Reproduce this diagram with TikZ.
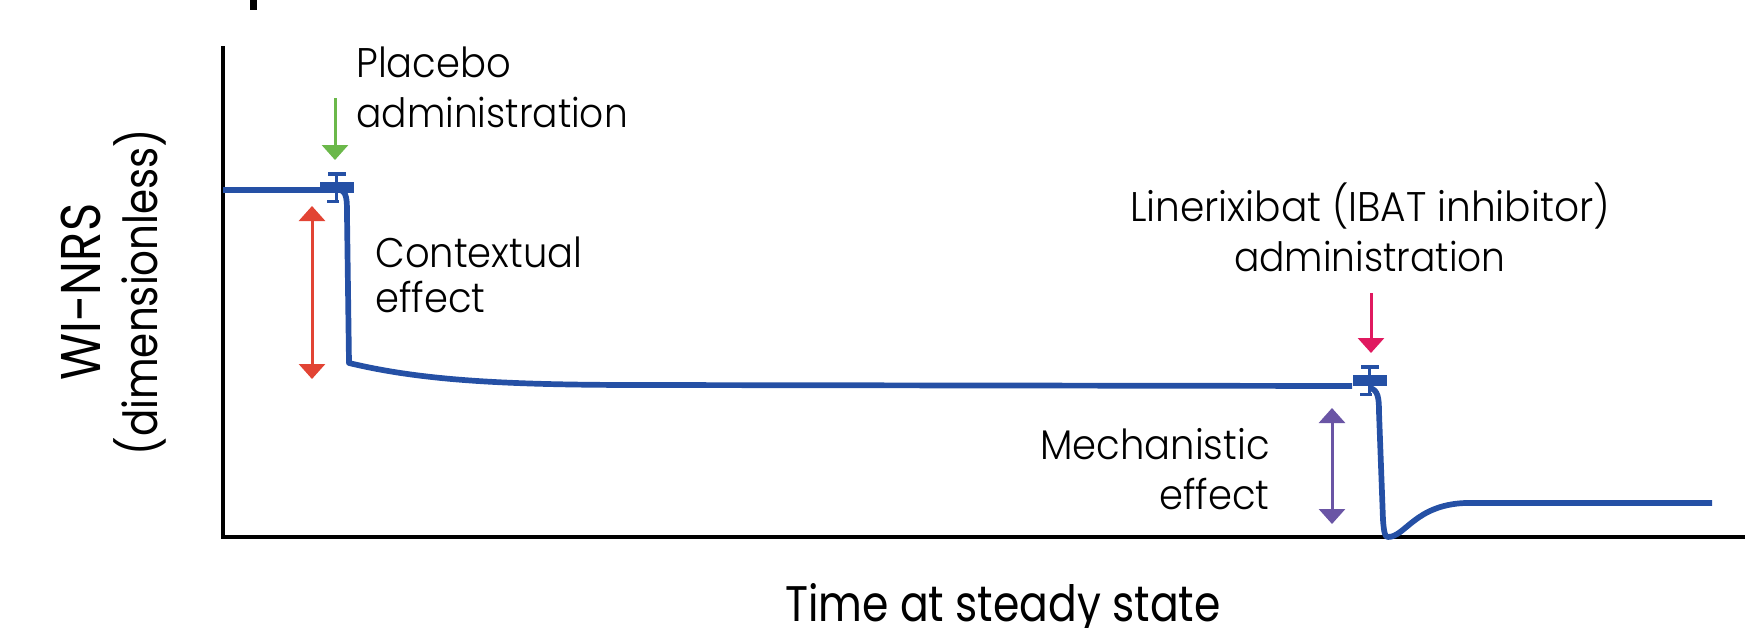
\documentclass[tikz,border=0pt]{standalone}
\usepackage{fontspec}
\setmainfont{Poppins}[FakeStretch=0.92]
\newfontfamily\annfont{Poppins Light}[FakeStretch=0.93]
\newfontfamily\annfontw{Poppins Light}[FakeStretch=0.945]
\newfontfamily\ylabfont{Poppins}[FakeStretch=0.86]
\newfontfamily\xlabfont{Poppins}[FakeStretch=0.85]
\usetikzlibrary{arrows.meta}
\definecolor{curveblue}{RGB}{37,80,165}
\definecolor{effred}{RGB}{226,68,52}
\definecolor{plagreen}{RGB}{107,184,74}
\definecolor{drugpink}{RGB}{224,25,95}
\definecolor{mechpurple}{RGB}{106,85,165}
\tikzset{
  lab/.style={inner sep=0pt, font=\annfont\fontsize{20.7}{25}\selectfont, text=black},
  labw/.style={inner sep=0pt, font=\annfontw\fontsize{20.7}{25}\selectfont, text=black},
  labn/.style={inner sep=0pt, font=\annfont\fontsize{20.2}{25}\selectfont, text=black},
  ylabA/.style={inner sep=0pt, font=\ylabfont\fontsize{28}{30}\selectfont, text=black, rotate=90, anchor=base},
  ylabB/.style={inner sep=0pt, font=\ylabfont\fontsize{23.5}{30}\selectfont, text=black, rotate=90, anchor=base},
  xlab/.style={inner sep=0pt, font=\xlabfont\fontsize{25}{30}\selectfont, text=black, anchor=base},
  axisline/.style={line width=2pt, black},
  curve/.style={line width=2.85pt, curveblue, line join=round},
  effarrow/.style={line width=1.5pt, {Triangle[width=13pt,length=7.5pt]}-{Triangle[width=13pt,length=7.5pt]}},
  dosearrow/.style={line width=1.5pt, -{Triangle[width=13pt,length=7.5pt]}},
  dosemark/.pic={
    \fill[curveblue] (-17,0) rectangle (17,11);
    \draw[curveblue, line width=1.5pt] (-1,-8) -- (-1,0);
    \draw[curveblue, line width=1.5pt] (-1,11) -- (-1,19.5);
    \draw[curveblue, line width=1.7pt] (-9,-8) -- (9,-8);
    \draw[curveblue, line width=1.7pt] (-10,19.5) -- (2,19.5);
  }
}
\begin{document}
\begin{tikzpicture}[x=0.5pt,y=-0.5pt]
\useasboundingbox (0,0) rectangle (1745,627);

% axes
\coordinate (ytop) at (223,46);
\coordinate (orig) at (223,537);
\coordinate (xend) at (1745,537);
\draw[axisline] (ytop) -- (orig) -- (xend);

% response curve
\coordinate (c0) at (223,190);
\coordinate (m1) at (320,190);
\draw[curve] (c0) -- (m1);
\draw[curve] (340,190) .. controls (347,192) and (347,200) .. (347,215)
  -- (349,363) .. controls (420,380) and (500,385) .. (640,385) -- (1352,386);
\draw[curve] (1370,388) .. controls (1378,390) and (1379,398) .. (1379,412)
  -- (1383,520) .. controls (1384,533) and (1385,537) .. (1388,537)
  .. controls (1405,537) and (1415,505) .. (1465,503) -- (1712,503);

% dosing markers
\pic at (337,182) {dosemark};
\pic at (1370,375) {dosemark};

% dosing arrows
\coordinate (g0) at (335,98);
\coordinate (g1) at (335,160);
\draw[dosearrow, plagreen] (g0) -- (g1);
\coordinate (p0) at (1371,293);
\coordinate (p1) at (1371,353);
\draw[dosearrow, drugpink] (p0) -- (p1);

% effect arrows
\coordinate (r0) at (312,206);
\coordinate (r1) at (312,379);
\draw[effarrow, effred] (r0) -- (r1);
\coordinate (v0) at (1332,408);
\coordinate (v1) at (1332,524);
\draw[effarrow, mechpurple] (v0) -- (v1);

% labels
\node[lab, anchor=base west] (plac1) at (356,77) {Placebo};
\node[labn, anchor=base west] (plac2) at (356,127) {administration};
\node[lab, anchor=base west] (ctx1) at (375,267) {Contextual};
\node[lab, anchor=base west] (ctx2) at (375,312) {effect};
\node[labw, anchor=base] (lin1) at (1370,221) {Linerixibat (IBAT inhibitor)};
\node[labn, anchor=base] (lin2) at (1370,271) {administration};
\node[lab, anchor=base east] (mech1) at (1270,459) {Mechanistic};
\node[lab, anchor=base east] (mech2) at (1270,509) {effect};

\node[ylabA] (yl1) at (100,292) {WI-NRS};
\node[ylabB] (yl2) at (157,292) {(dimensionless)};
\node[xlab] (xl) at (1003,621) {Time at steady state};

% fragment of cut-off title
\fill[black] (250,0) rectangle (257,10);
\end{tikzpicture}
\end{document}
